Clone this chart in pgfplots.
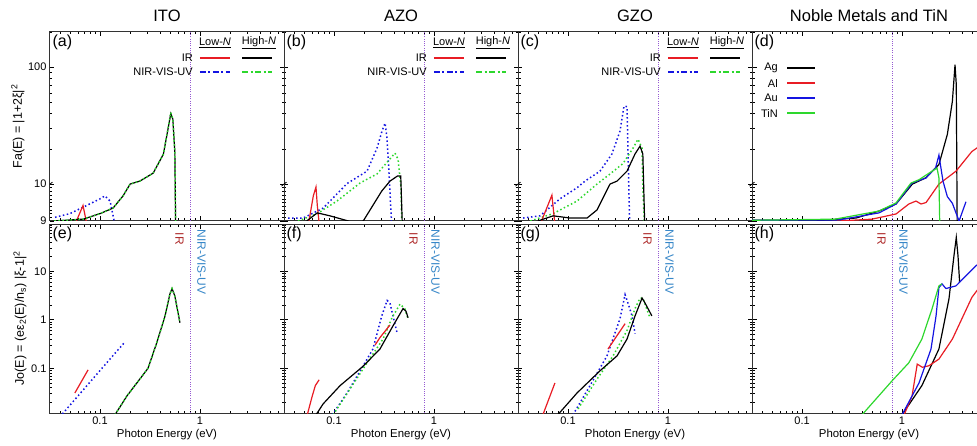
\documentclass[border=0pt]{standalone}
\usepackage{fontspec}
\setmainfont{Liberation Sans}
\usepackage{pgfplots}
\pgfplotsset{compat=1.18}

\definecolor{cred}{RGB}{232,28,36}
\definecolor{cblue}{RGB}{20,20,225}
\definecolor{cgreen}{RGB}{45,215,45}
\definecolor{cpurple}{RGB}{150,90,210}
\definecolor{irred}{RGB}{175,45,45}
\definecolor{nirblue}{RGB}{55,135,200}

% settings shared by all eight panels
\pgfplotsset{scale only axis, width=234pt, height=189pt,
  xmin=0.0316, xmax=6.92,
  tick align=inside, major tick length=4.5pt, minor tick length=2.5pt,
  tick style={black, line width=0.6pt},
  axis line style={black!80, line width=1pt},
  xtick={0.1,1},
  minor xtick={0.04,0.05,0.06,0.07,0.08,0.09,0.2,0.3,0.4,0.5,0.6,0.7,0.8,0.9,2,3,4,5,6},
  ticklabel style={font=\fontsize{11}{13}\selectfont},
  title style={font=\fontsize{16.5}{18}\selectfont, yshift=1pt},
  ylabel style={font=\fontsize{12.5}{14}\selectfont},
  xlabel style={font=\fontsize{11.4}{13}\selectfont}}

% top row: 9..10 linear, then log above 10 (broken axis)
\pgfplotsset{
  tctop/.style={ymin=-0.316, ymax=1.301,
    y filter/.code={\pgfmathparse{##1<10 ? (##1-10)*0.316 : ln(##1)/2.302585-1}},
    ytick={-0.316,0,1}, yticklabels={9,10,100},
    minor ytick={-0.2844,-0.2528,-0.2212,-0.1896,-0.158,-0.1264,-0.0948,-0.0632,-0.0316,0.30103,0.47712,0.60206,0.69897,0.77815,0.8451,0.90309,0.95424,1.30103},
    xticklabels={}},
  tcbot/.style={ymin=0.012, ymax=94,
    ytick={0.1,1,10}, yticklabels={0.1,1,10},
    minor ytick={0.02,0.03,0.04,0.05,0.06,0.07,0.08,0.09,0.2,0.3,0.4,0.5,0.6,0.7,0.8,0.9,2,3,4,5,6,7,8,9,20,30,40,50,60,70,80,90},
    xticklabels={0.1,1}},
  tcnoy/.style={yticklabels={}},
  sIR/.style={cred, line width=1.2pt},
  sHIR/.style={black, line width=1.2pt},
  sNIR/.style={cblue, line width=1.5pt, dash pattern=on 1.5pt off 2.5pt},
  sHNIR/.style={cgreen, line width=1.5pt, dash pattern=on 1.5pt off 2.5pt},
  sVL/.style={cpurple, line width=0.9pt, dash pattern=on 0.9pt off 1.4pt, forget plot},
}

\newcommand{\legfont}{\fontsize{11}{13}\selectfont}
\newcommand{\plab}[1]{\node[anchor=north west, inner sep=1pt, font=\fontsize{16}{18}\selectfont] at (axis description cs:0.006,0.99) {(#1)};}
\newcommand{\brk}{%
  \draw[black, line width=0.8pt] (rel axis cs:0,0.1954) ++(-2.5pt,-2pt) -- ++(5pt,4pt);
  \draw[black, line width=0.8pt] (rel axis cs:1,0.1954) ++(-2.5pt,-2pt) -- ++(5pt,4pt);}
\newcommand{\tcoleg}{%
  \node[font=\legfont] at (axis description cs:0.705,0.942) {\underline{Low-\textit{N}}};
  \node[font=\legfont] at (axis description cs:0.893,0.942) {\underline{High-\textit{N}}};
  \node[font=\legfont, anchor=east, inner sep=0pt] at (axis description cs:0.611,0.862) {IR};
  \node[font=\legfont, anchor=east, inner sep=0pt] at (axis description cs:0.611,0.788) {NIR-VIS-UV};
  \draw[cred, line width=2.2pt] (axis description cs:0.641,0.862) -- (axis description cs:0.769,0.862);
  \draw[black, line width=2.2pt] (axis description cs:0.821,0.862) -- (axis description cs:0.949,0.862);
  \draw[cblue, line width=2.2pt, dash pattern=on 6pt off 2.5pt on 2pt off 2.5pt] (axis description cs:0.641,0.788) -- (axis description cs:0.769,0.788);
  \draw[cgreen, line width=2.2pt, dash pattern=on 6pt off 2.5pt on 2pt off 2.5pt] (axis description cs:0.821,0.788) -- (axis description cs:0.949,0.788);}
\newcommand{\regions}{%
  \node[rotate=-90, anchor=west, inner sep=0pt, text=irred, font=\fontsize{12}{13}\selectfont] at (axis description cs:0.553,0.955) {IR};
  \node[rotate=-90, anchor=west, inner sep=0pt, text=nirblue, font=\fontsize{12}{13}\selectfont] at (axis description cs:0.647,0.97) {NIR-VIS-UV};}

\begin{document}
\begin{tikzpicture}
%% ---------------- top row ----------------
\begin{axis}[tctop, xmode=log, at={(50pt,224pt)}, anchor=south west, title={ITO},
  ylabel={Fa(E) = |1+2ξ|\textsuperscript{2}},
  ylabel style={at={(axis description cs:-0.137,0.5)}, anchor=center}]
\addplot[sVL] coordinates {(0.8,8) (0.8,1000)};
\addplot[sNIR] coordinates {(0.0355,9.1) (0.05,9.2) (0.071,9.4) (0.1,9.6) (0.112,9.68) (0.126,9.54) (0.141,8.9)};
\addplot[sIR] coordinates {(0.056,8.9) (0.0676,9.42) (0.074,8.9)};
\addplot[sHIR] coordinates {(0.035,9.0) (0.068,9.05) (0.1,9.2) (0.135,9.35) (0.17,9.68) (0.2,10) (0.25,10.6) (0.34,12.4) (0.43,18) (0.48,30) (0.51,40) (0.535,36) (0.56,19) (0.575,8)};
\addplot[sHNIR] coordinates {(0.035,9.0) (0.068,9.05) (0.1,9.2) (0.135,9.35) (0.17,9.68) (0.2,10) (0.25,10.6) (0.34,12.4) (0.43,18) (0.48,30) (0.51,41) (0.535,36) (0.56,19) (0.575,8)};
\plab{a}\brk\tcoleg
\end{axis}

\begin{axis}[tctop, tcnoy, xmode=log, at={(284pt,224pt)}, anchor=south west, title={AZO}]
\addplot[sVL] coordinates {(0.8,8) (0.8,1000)};
\addplot[sNIR] coordinates {(0.0347,9.08) (0.049,9.08) (0.078,9.35) (0.135,10.1) (0.214,12.9) (0.269,20.3) (0.302,28.4) (0.324,33.2) (0.339,24.7) (0.357,11.3) (0.377,8.9)};
\addplot[sHNIR] coordinates {(0.0437,9.0) (0.068,9.2) (0.107,9.54) (0.182,10.2) (0.269,12.2) (0.347,15.7) (0.407,18.4) (0.437,16.3) (0.468,9.9) (0.479,8.5)};
\addplot[sIR] coordinates {(0.0553,8.9) (0.0621,9.68) (0.066,9.92) (0.068,9.43) (0.0713,8.9)};
\addplot[sHIR] coordinates {(0.0533,9.0) (0.068,9.22) (0.091,9.14) (0.139,9.0) (0.165,8.9) (0.196,9.0) (0.30,9.81) (0.363,10.6) (0.43,11.7) (0.465,11.7) (0.487,8.5)};
\plab{b}\brk\tcoleg
\end{axis}

\begin{axis}[tctop, tcnoy, xmode=log, at={(518pt,224pt)}, anchor=south west, title={GZO}]
\addplot[sVL] coordinates {(0.8,8) (0.8,1000)};
\addplot[sNIR] coordinates {(0.0355,9.08) (0.0525,9.14) (0.083,9.6) (0.123,9.9) (0.148,10.6) (0.209,12.9) (0.275,18.1) (0.331,28.4) (0.363,46.4) (0.389,46) (0.398,19) (0.417,8.5)};
\addplot[sHNIR] coordinates {(0.042,9.0) (0.071,9.2) (0.123,9.54) (0.195,10) (0.263,12.2) (0.355,15) (0.447,20.3) (0.501,24.2) (0.55,20.3) (0.56,9.9) (0.59,8.5)};
\addplot[sIR] coordinates {(0.0525,8.9) (0.069,9.7) (0.074,8.9)};
\addplot[sHIR] coordinates {(0.05,9.0) (0.071,9.14) (0.105,9.08) (0.155,9.08) (0.195,9.3) (0.263,10) (0.309,10.6) (0.389,12.9) (0.468,18.1) (0.525,21.1) (0.56,18.1) (0.59,8.5)};
\plab{c}\brk\tcoleg
\end{axis}

\begin{axis}[tctop, tcnoy, xmode=log, at={(752pt,224pt)}, anchor=south west, title={Noble Metals and TiN}]
\addplot[sVL] coordinates {(0.8,8) (0.8,1000)};
\addplot[sHIR] coordinates {(0.0316,9.02) (0.174,9.03) (0.347,9.08) (0.589,9.27) (0.871,9.46) (1.27,10) (1.73,11.3) (2.34,14.7) (2.84,26.6) (3.19,51) (3.39,105) (3.49,71) (3.57,8.5)};
\addplot[cred, line width=1.2pt] coordinates {(0.2,8.99) (0.5,9.05) (0.871,9.19) (1.17,9.46) (1.38,9.54) (1.55,9.46) (1.74,9.5) (2.34,10) (3.47,12.9) (5.0,19) (6.9,23)};
\addplot[cblue, line width=1.2pt] coordinates {(0.0316,9.02) (0.234,9.03) (0.589,9.22) (0.871,9.46) (1.26,10.2) (1.74,11.3) (2.17,13.8) (2.34,17.7) (2.57,10.6) (2.84,9.66) (3.19,9.48) (3.72,9.0) (4.36,9.52)};
\addplot[cgreen, line width=1.2pt] coordinates {(0.0316,9.02) (0.214,9.05) (0.589,9.27) (0.871,9.49) (1.23,10.2) (1.48,10.9) (2.0,12.9) (2.24,13.7) (2.34,11.3) (2.4,8.5)};
\plab{d}\brk
\node[font=\legfont, anchor=east, inner sep=0pt] at (axis description cs:0.111,0.810) {Ag};
\node[font=\legfont, anchor=east, inner sep=0pt] at (axis description cs:0.111,0.730) {Al};
\node[font=\legfont, anchor=east, inner sep=0pt] at (axis description cs:0.111,0.651) {Au};
\node[font=\legfont, anchor=east, inner sep=0pt] at (axis description cs:0.111,0.571) {TiN};
\draw[black, line width=2.2pt] (axis description cs:0.150,0.810) -- (axis description cs:0.269,0.810);
\draw[cred, line width=2.2pt] (axis description cs:0.150,0.730) -- (axis description cs:0.269,0.730);
\draw[cblue, line width=2.2pt] (axis description cs:0.150,0.651) -- (axis description cs:0.269,0.651);
\draw[cgreen, line width=2.2pt] (axis description cs:0.150,0.571) -- (axis description cs:0.269,0.571);
\end{axis}

%% ---------------- bottom row ----------------
\begin{axis}[tcbot, xmode=log, ymode=log, at={(50pt,32pt)}, anchor=south west,
  xlabel={Photon Energy (eV)}, xlabel style={at={(axis description cs:0.5,-0.116)}, anchor=center},
  ylabel={Jo(E) = (eε\textsubscript{2}(E)/n\textsubscript{s}) |ξ-1|\textsuperscript{2}},
  ylabel style={at={(axis description cs:-0.128,0.5)}, anchor=center}]
\addplot[sVL] coordinates {(0.8,0.001) (0.8,1000)};
\addplot[sNIR] coordinates {(0.042,0.0115) (0.07,0.0385) (0.1,0.09) (0.14,0.2) (0.178,0.35)};
\addplot[sIR] coordinates {(0.056,0.031) (0.076,0.093)};
\addplot[sHIR] coordinates {(0.141,0.011) (0.186,0.027) (0.25,0.06) (0.302,0.10) (0.37,0.34) (0.447,1.2) (0.5,3.4) (0.525,4.4) (0.56,3.1) (0.63,0.87)};
\addplot[sHNIR] coordinates {(0.141,0.011) (0.186,0.027) (0.25,0.06) (0.302,0.10) (0.37,0.34) (0.447,1.2) (0.5,3.4) (0.525,4.4) (0.56,3.1) (0.63,0.87)};
\plab{e}\regions
\end{axis}

\begin{axis}[tcbot, tcnoy, xmode=log, ymode=log, at={(284pt,32pt)}, anchor=south west,
  xlabel={Photon Energy (eV)}, xlabel style={at={(axis description cs:0.5,-0.116)}, anchor=center}]
\addplot[sVL] coordinates {(0.8,0.001) (0.8,1000)};
\addplot[sNIR] coordinates {(0.096,0.011) (0.135,0.031) (0.204,0.13) (0.245,0.25) (0.30,1.2) (0.34,2.5) (0.363,2.2) (0.389,1.2) (0.427,0.54)};
\addplot[sHNIR] coordinates {(0.098,0.011) (0.145,0.038) (0.229,0.16) (0.309,0.4) (0.38,1.1) (0.457,2.1) (0.51,1.7) (0.55,1.05)};
\addplot[sIR] coordinates {(0.054,0.011) (0.06,0.025) (0.065,0.044) (0.071,0.058)};
\addplot[sIR] coordinates {(0.257,0.30) (0.288,0.43) (0.363,0.78)};
\addplot[sHIR] coordinates {(0.066,0.011) (0.078,0.0186) (0.115,0.044) (0.195,0.11) (0.288,0.25) (0.389,0.75) (0.49,1.7) (0.525,1.5) (0.55,1.1)};
\plab{f}\regions
\end{axis}

\begin{axis}[tcbot, tcnoy, xmode=log, ymode=log, at={(518pt,32pt)}, anchor=south west,
  xlabel={Photon Energy (eV)}, xlabel style={at={(axis description cs:0.5,-0.116)}, anchor=center}]
\addplot[sVL] coordinates {(0.8,0.001) (0.8,1000)};
\addplot[sNIR] coordinates {(0.112,0.011) (0.166,0.044) (0.245,0.18) (0.331,1.05) (0.372,3.3) (0.398,2.2) (0.437,1.2) (0.468,0.52)};
\addplot[sHNIR] coordinates {(0.126,0.0146) (0.195,0.06) (0.282,0.18) (0.389,0.6) (0.468,1.7) (0.525,2.8) (0.56,2.8) (0.66,1.1)};
\addplot[sIR] coordinates {(0.056,0.011) (0.074,0.05)};
\addplot[sIR] coordinates {(0.251,0.25) (0.372,0.83)};
\addplot[sHIR] coordinates {(0.079,0.011) (0.123,0.031) (0.209,0.089) (0.309,0.18) (0.389,0.4) (0.468,1.2) (0.55,2.8) (0.59,2.2) (0.69,1.2)};
\plab{g}\regions
\end{axis}

\begin{axis}[tcbot, tcnoy, xmode=log, ymode=log, at={(752pt,32pt)}, anchor=south west,
  xlabel={Photon Energy (eV)}, xlabel style={at={(axis description cs:0.5,-0.116)}, anchor=center}]
\addplot[sVL] coordinates {(0.8,0.001) (0.8,1000)};
\addplot[sHIR] coordinates {(1.0,0.011) (1.58,0.044) (2.34,0.25) (2.95,2.7) (3.31,21) (3.49,49.7) (3.63,21) (3.77,5.9)};
\addplot[cred, line width=1.2pt] coordinates {(1.05,0.011) (1.26,0.027) (1.42,0.122) (1.6,0.105) (1.86,0.113) (2.34,0.155) (3.19,0.4) (5.0,2.9) (6.9,7)};
\addplot[cblue, line width=1.2pt] coordinates {(1.0,0.011) (1.48,0.05) (1.95,0.25) (2.19,1.2) (2.34,4.6) (2.51,5.5) (2.75,4.4) (3.47,5.0) (4.37,8.1) (5.5,13) (6.9,18)};
\addplot[cgreen, line width=1.2pt] coordinates {(0.398,0.011) (0.794,0.055) (1.17,0.13) (1.58,0.4) (2.0,1.7) (2.34,5.0) (2.51,5.5)};
\plab{h}\regions
\end{axis}

\pgfresetboundingbox
\path[use as bounding box] (0pt,0pt) rectangle (977pt,445pt);
\end{tikzpicture}
\end{document}
